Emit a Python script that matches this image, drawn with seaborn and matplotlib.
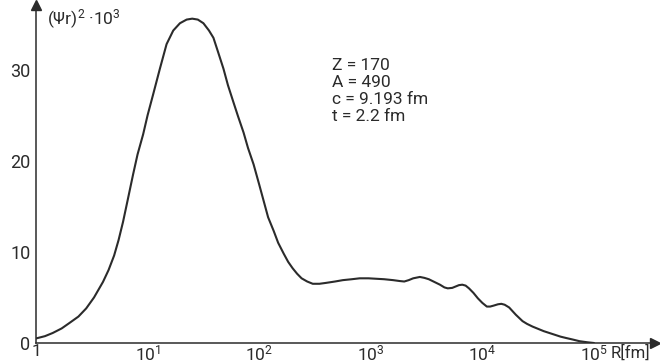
import numpy as np
import pandas as pd
import matplotlib
matplotlib.use("Agg")
import matplotlib.pyplot as plt
import seaborn as sns
from matplotlib.ticker import FixedLocator, NullFormatter

# Data (R given as log10 of R in fm)
log10_R = [0.00, 0.08, 0.15, 0.23, 0.30, 0.38, 0.45, 0.52, 0.60, 0.65, 0.70, 0.74, 0.78,
           0.82, 0.87, 0.91, 0.96, 1.00, 1.05, 1.11, 1.17, 1.23, 1.29, 1.35, 1.40, 1.45,
           1.50, 1.55, 1.59, 1.63, 1.68, 1.72, 1.77, 1.81, 1.86, 1.90, 1.95, 2.00, 2.04,
           2.08, 2.13, 2.17, 2.22, 2.26, 2.30, 2.34, 2.38, 2.43, 2.48, 2.54, 2.60, 2.68,
           2.75, 2.83, 2.90, 2.98, 3.05, 3.12, 3.20, 3.26, 3.30, 3.34, 3.38, 3.44, 3.48,
           3.52, 3.57, 3.62, 3.66, 3.69, 3.73, 3.76, 3.79, 3.82, 3.85, 3.88, 3.92, 3.96,
           4.00, 4.04, 4.07, 4.10, 4.14, 4.17, 4.20, 4.24, 4.27, 4.30, 4.36, 4.40, 4.45,
           4.50, 4.55, 4.60, 4.65, 4.70, 4.75, 4.81, 4.87, 4.94, 5.00]
psi_r2 = [0.5, 0.75, 1.1, 1.6, 2.2, 2.9, 3.8, 5.0, 6.7, 8.0, 9.6, 11.3, 13.3,
          15.6, 18.5, 20.7, 22.9, 25.0, 27.3, 30.1, 32.8, 34.3, 35.1, 35.5, 35.6, 35.5,
          35.1, 34.3, 33.5, 32.0, 30.1, 28.3, 26.4, 24.9, 23.1, 21.4, 19.6, 17.4, 15.6,
          13.8, 12.3, 11.0, 9.8, 8.9, 8.2, 7.6, 7.1, 6.75, 6.5, 6.5, 6.6, 6.75,
          6.9, 7.0, 7.1, 7.1, 7.05, 7.0, 6.9, 6.8, 6.75, 6.9, 7.1, 7.25, 7.15,
          7.0, 6.7, 6.4, 6.1, 6.0, 6.05, 6.2, 6.35, 6.4, 6.3, 6.0, 5.5, 4.9,
          4.4, 4.0, 4.0, 4.1, 4.25, 4.3, 4.2, 3.9, 3.5, 3.1, 2.4, 2.1, 1.8,
          1.55, 1.3, 1.1, 0.9, 0.7, 0.55, 0.38, 0.2, 0.08, 0.0]
y_ticks = [0, 10, 20, 30]
y_minor = [5, 15, 25, 35]
x_ticks = [1, 10, 100, 1000, 10000, 100000]
x_tick_labels = ["1", "10$^{1}$", "10$^{2}$", "10$^{3}$", "10$^{4}$", "10$^{5}$"]
x_minor = [5, 50, 500, 5000, 50000]
params = ["Z = 170", "A = 490", "c = 9.193 fm", "t = 2.2 fm"]

sns.set_style("white")
plt.rcParams["font.family"] = ["Roboto", "DejaVu Sans"]
plt.rcParams["mathtext.fontset"] = "custom"
plt.rcParams["mathtext.rm"] = "Roboto"
plt.rcParams["mathtext.it"] = "Roboto:italic"
ink = "#2b2b2b"

W, H = 660, 364
fig = plt.figure(figsize=(W / 100, H / 100), dpi=100)
x0, x1, y0, y1 = 36, 655, 343, 5
ax = fig.add_axes([x0 / W, 1 - y0 / H, (x1 - x0) / W, (y0 - y1) / H])

df = pd.DataFrame({"R": np.power(10.0, log10_R), "v": psi_r2})
sns.lineplot(data=df, x="R", y="v", ax=ax, color=ink, lw=1.5, sort=False)

ax.set_xscale("log")
ax.set_xlim(1, 10 ** 5.547)
ax.set_ylim(0, 37.1)

for s in ["top", "right"]:
    ax.spines[s].set_visible(False)
for s in ["left", "bottom"]:
    ax.spines[s].set_color(ink)
    ax.spines[s].set_linewidth(1.1)

ax.xaxis.set_major_locator(FixedLocator(x_ticks))
ax.set_xticklabels(x_tick_labels)
ax.xaxis.set_minor_locator(FixedLocator(x_minor))
ax.xaxis.set_minor_formatter(NullFormatter())
ax.yaxis.set_major_locator(FixedLocator(y_ticks))
ax.yaxis.set_minor_locator(FixedLocator(y_minor))

ax.tick_params(axis="both", which="major", direction="in", length=6, width=1,
               color=ink, labelcolor=ink, labelsize=13)
ax.tick_params(axis="both", which="minor", direction="in", length=4, width=1, color=ink)
ax.tick_params(axis="x", which="major", pad=0.5, labelsize=12.5)
ax.tick_params(axis="y", which="major", pad=4)
ax.set_xlabel("")
ax.set_ylabel("")

# arrows
ax.plot([1], [0], marker=">", ms=7, color=ink, transform=ax.transAxes, clip_on=False)
ax.plot([0], [1], marker="^", ms=7, color=ink, transform=ax.transAxes, clip_on=False)

fig.text(47 / W, 1 - 19 / H, "(\u03a8r)$^{2}$ \u00b710$^{3}$", color=ink, fontsize=12.5,
         va="center", ha="left")
fig.text(611 / W, 1 - 353 / H, "R[fm]", color=ink, fontsize=12, va="center", ha="left")

for i, t in enumerate(params):
    fig.text(332 / W, 1 - (65 + 17.3 * i) / H, t, color=ink, fontsize=12.5,
             va="center", ha="left")

fig.savefig("out.png", dpi=100)
